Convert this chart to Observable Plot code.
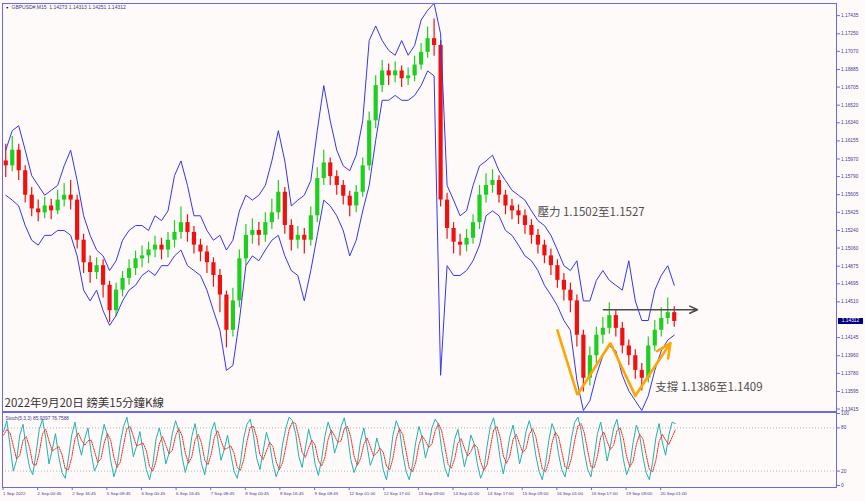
<!DOCTYPE html>
<html><head><meta charset="utf-8">
<script src="https://cdn.jsdelivr.net/npm/d3@7"></script>
<script src="https://cdn.jsdelivr.net/npm/@observablehq/plot@0.6"></script>
<style>
html,body{margin:0;padding:0;background:#fffafa;}
#wrap{position:relative;width:865px;height:501px;overflow:hidden;background:#fffafa;font-family:"Liberation Sans",Arial,sans-serif;}
#wrap svg{position:absolute;left:0;overflow:visible;}
#last{position:absolute;left:838px;width:25px;height:6px;background:#000080;color:#fff;font:4.8px "Liberation Sans";line-height:6px;text-align:center;}
</style></head><body>
<div id="wrap"></div>
<script>
// ---- data (GBPUSD M15, 1–20 Sep 2022; 3-hour groups of 12 bars) ----
const openP = [1.1595,1.1590,1.1606,1.1585,1.1560,1.1546,1.1542,1.1549,1.1544,1.1555,
1.1560,1.1555,1.1514,1.1491,1.1481,1.1488,1.1468,1.1442,1.1463,1.1475,
1.1485,1.1495,1.1498,1.1504,1.1509,1.1504,1.1514,1.1522,1.1532,1.1522,
1.1509,1.1502,1.1491,1.1478,1.1458,1.1422,1.1452,1.1495,1.1519,1.1524,
1.1519,1.1532,1.1542,1.1563,1.1529,1.1514,1.1519,1.1514,1.1539,1.1577,
1.1593,1.1579,1.1570,1.1559,1.1549,1.1563,1.1590,1.1636,1.1672,1.1687,
1.1682,1.1687,1.1679,1.1682,1.1693,1.1706,1.1720,1.1713,1.1555,1.1526,
1.1512,1.1509,1.1516,1.1532,1.1560,1.1570,1.1575,1.1560,1.1549,1.1544,
1.1539,1.1529,1.1519,1.1509,1.1498,1.1488,1.1473,1.1463,1.1452,1.1417,
1.1373,1.1396,1.1417,1.1424,1.1437,1.1424,1.1406,1.1396,1.1381,1.1373,
1.1406,1.1422,1.1434,1.1440];
const highP = [1.1612,1.1620,1.1612,1.1590,1.1568,1.1555,1.1558,1.1556,1.1565,1.1572,
1.1575,1.1560,1.1520,1.1498,1.1496,1.1494,1.1472,1.1470,1.1482,1.1494,
1.1503,1.1508,1.1512,1.1518,1.1516,1.1522,1.1534,1.1548,1.1540,1.1528,
1.1515,1.1508,1.1496,1.1484,1.1462,1.1465,1.1504,1.1530,1.1536,1.1532,
1.1542,1.1556,1.1575,1.1568,1.1535,1.1528,1.1526,1.1548,1.1588,1.1606,
1.1598,1.1585,1.1575,1.1564,1.1570,1.1598,1.1645,1.1682,1.1698,1.1694,
1.1696,1.1692,1.1690,1.1702,1.1715,1.1732,1.1740,1.1718,1.1562,1.1532,
1.1520,1.1525,1.1540,1.1570,1.1582,1.1586,1.1580,1.1565,1.1556,1.1550,
1.1545,1.1535,1.1525,1.1514,1.1505,1.1494,1.1480,1.1470,1.1458,1.1422,
1.1405,1.1425,1.1435,1.1450,1.1442,1.1430,1.1412,1.1402,1.1388,1.1415,
1.1432,1.1445,1.1455,1.1446];
const lowP = [1.1578,1.1584,1.1575,1.1552,1.1538,1.1533,1.1536,1.1535,1.1540,1.1548,
1.1545,1.1505,1.1480,1.1470,1.1474,1.1455,1.1430,1.1436,1.1456,1.1468,
1.1478,1.1486,1.1490,1.1496,1.1494,1.1496,1.1506,1.1515,1.1512,1.1500,
1.1492,1.1480,1.1466,1.1440,1.1404,1.1415,1.1445,1.1488,1.1510,1.1508,
1.1512,1.1525,1.1535,1.1520,1.1503,1.1505,1.1500,1.1508,1.1532,1.1570,
1.1570,1.1560,1.1550,1.1538,1.1542,1.1558,1.1585,1.1628,1.1665,1.1672,
1.1675,1.1670,1.1672,1.1676,1.1688,1.1700,1.1702,1.1548,1.1515,1.1500,
1.1498,1.1502,1.1510,1.1525,1.1552,1.1562,1.1552,1.1540,1.1535,1.1530,
1.1520,1.1510,1.1500,1.1490,1.1478,1.1465,1.1452,1.1440,1.1405,1.1359,
1.1365,1.1388,1.1408,1.1418,1.1415,1.1398,1.1386,1.1372,1.1360,1.1368,
1.1400,1.1415,1.1428,1.1425];
const closeP = [1.1590,1.1606,1.1585,1.1560,1.1546,1.1542,1.1549,1.1544,1.1555,1.1560,
1.1555,1.1514,1.1491,1.1481,1.1488,1.1468,1.1442,1.1463,1.1475,1.1485,
1.1495,1.1498,1.1504,1.1509,1.1504,1.1514,1.1522,1.1532,1.1522,1.1509,
1.1502,1.1491,1.1478,1.1458,1.1422,1.1452,1.1495,1.1519,1.1524,1.1519,
1.1532,1.1542,1.1563,1.1529,1.1514,1.1519,1.1514,1.1539,1.1577,1.1593,
1.1579,1.1570,1.1559,1.1549,1.1563,1.1590,1.1636,1.1672,1.1687,1.1682,
1.1687,1.1679,1.1682,1.1693,1.1706,1.1720,1.1713,1.1555,1.1526,1.1512,
1.1509,1.1516,1.1532,1.1560,1.1570,1.1575,1.1560,1.1549,1.1544,1.1539,
1.1529,1.1519,1.1509,1.1498,1.1488,1.1473,1.1463,1.1452,1.1417,1.1373,
1.1396,1.1417,1.1424,1.1437,1.1424,1.1406,1.1396,1.1381,1.1373,1.1406,
1.1422,1.1434,1.1440,1.1431];
const upperBand = [1.1606,1.1626,1.1631,1.1606,1.1580,1.1570,1.1560,1.1565,1.1570,1.1590,
1.1606,1.1575,1.1539,1.1519,1.1504,1.1498,1.1483,1.1493,1.1514,1.1524,
1.1529,1.1529,1.1524,1.1539,1.1534,1.1544,1.1580,1.1595,1.1570,1.1539,
1.1539,1.1524,1.1514,1.1519,1.1504,1.1514,1.1544,1.1560,1.1555,1.1560,
1.1570,1.1595,1.1626,1.1595,1.1549,1.1555,1.1560,1.1575,1.1626,1.1672,
1.1636,1.1606,1.1590,1.1585,1.1601,1.1636,1.1718,1.1733,1.1718,1.1708,
1.1703,1.1718,1.1703,1.1713,1.1739,1.1749,1.1756,1.1725,1.1570,1.1555,
1.1539,1.1544,1.1570,1.1590,1.1595,1.1601,1.1585,1.1575,1.1565,1.1560,
1.1555,1.1544,1.1534,1.1529,1.1519,1.1504,1.1488,1.1483,1.1493,1.1452,
1.1452,1.1473,1.1483,1.1473,1.1468,1.1463,1.1493,1.1452,1.1432,1.1432,
1.1463,1.1478,1.1488,1.1468];
const lowerBand = [1.1560,1.1555,1.1549,1.1529,1.1514,1.1509,1.1519,1.1519,1.1524,1.1524,
1.1519,1.1498,1.1463,1.1452,1.1463,1.1442,1.1427,1.1437,1.1452,1.1463,
1.1468,1.1478,1.1483,1.1478,1.1488,1.1488,1.1498,1.1504,1.1488,1.1483,
1.1478,1.1463,1.1442,1.1422,1.1381,1.1386,1.1432,1.1488,1.1498,1.1493,
1.1504,1.1514,1.1519,1.1498,1.1483,1.1478,1.1452,1.1483,1.1519,1.1555,
1.1549,1.1539,1.1524,1.1498,1.1514,1.1544,1.1570,1.1616,1.1657,1.1657,
1.1662,1.1657,1.1657,1.1662,1.1672,1.1687,1.1682,1.1376,1.1488,1.1478,
1.1478,1.1483,1.1493,1.1509,1.1539,1.1544,1.1539,1.1524,1.1519,1.1509,
1.1498,1.1493,1.1483,1.1468,1.1458,1.1447,1.1432,1.1422,1.1371,1.1340,
1.1350,1.1376,1.1396,1.1406,1.1401,1.1376,1.1360,1.1350,1.1340,1.1355,
1.1381,1.1401,1.1412,1.1417];
// Stochastic (5,3,3), one value per 6 bars
const stochK = [75,90,55,20,35,70,85,50,25,15,45,78,92,65,30,50,72,40,18,10,38,70,88,60,42,65,80,45,20,30,
62,85,70,35,12,28,60,82,95,70,40,55,75,48,22,8,30,65,80,58,30,45,72,90,76,40,18,35,68,86,
60,30,15,42,75,88,64,35,50,70,44,20,10,32,66,85,92,70,38,22,48,74,58,30,12,25,58,80,95,90,
72,40,25,52,78,60,30,14,36,68,88,74,45,60,82,94,70,36,18,30,62,80,55,28,40,66,50,22,8,35,
70,90,78,45,20,8,28,60,82,66,38,55,80,92,85,50,24,12,36,64,78,52,26,44,70,58,30,10,22,55,
82,94,70,38,16,40,68,84,60,30,48,75,90,72,42,20,8,30,62,86,74,44,22,12,35,66,88,95,76,45,
22,12,40,72,88,62,34,55,80,92,68,36,15,28,60,84,70,40,18,8,32,66,86,60,42,70,88,86];
const stochD = [70,78,73,55,37,42,63,68,53,30,28,46,72,78,62,48,51,54,43,23,22,39,65,73,63,56,62,63,48,32,
37,59,72,63,39,25,33,57,79,82,68,55,57,59,48,26,20,34,58,68,56,44,49,69,79,69,45,31,40,63,
71,59,35,29,44,68,76,62,50,52,55,45,25,21,36,61,81,82,67,43,36,48,60,54,33,22,32,54,78,88,
86,67,46,39,52,63,56,35,27,39,64,77,69,60,62,79,82,67,41,28,37,57,66,54,41,45,52,46,27,22,
38,65,79,71,48,24,19,32,57,69,62,53,58,76,86,76,53,29,24,37,59,65,52,41,47,57,53,33,21,29,
53,77,82,67,41,31,41,64,71,58,46,51,71,79,68,45,23,19,33,59,74,68,47,26,23,38,63,83,86,72,
48,26,25,41,67,74,61,50,56,76,80,65,40,26,34,57,71,65,43,22,19,35,61,71,63,57,67,77];
// axis ticks
const priceTicks = [1.17435,1.17250,1.17070,1.16885,1.16705,1.16520,1.16340,1.16155,1.15970,1.15790,1.15605,1.15425,1.15240,1.15060,1.14875,1.14695,1.14510,1.14145,1.13960,1.13780,1.13595,1.13415];
const stochTicks = [0,20,80,100];
const timeTickBars = [0,64,128,192,256,320,384,448,512,576,640,704,768,832,896,960,1024,1088,1152,1216];
const timeLabels = ["1 Sep 2022","2 Sep 00:45","2 Sep 16:45","5 Sep 08:45","6 Sep 00:45","6 Sep 16:45","7 Sep 08:45","8 Sep 00:45","8 Sep 16:45","9 Sep 08:45","12 Sep 01:00","12 Sep 17:00","13 Sep 09:00","14 Sep 01:00","14 Sep 17:00","15 Sep 09:00","16 Sep 01:00","16 Sep 17:00","19 Sep 09:00","20 Sep 01:00"];
const lastPrice = 1.14312;
const headerText = "GBPUSD#,M15  1.14273 1.14313 1.14251 1.14312";
const stochText = "Stoch(5,3,3) 85.9397 76.7588";
const titleText = "2022年9月20日 鎊美15分鐘K線";
// annotations (bar index, price)
const supportBars = [1026,1063,1124,1170,1235];
const supportPrices = [1.1422,1.1356,1.1409,1.1355,1.1409];
const resistLine = {bar1:1111, bar2:1285, price:1.1443};
const notes = [
  {bar:989, price:1.1543, label:"壓力 1.1502至1.1527"},
  {bar:1207, price:1.1364, label:"支撐 1.1386至1.1409"}
];

// ---- build ----
const BLUE = "#3535f0", AXIS = "#6a6ae6", LBL = "#3c3c8c";
const GREEN = "#1fcf1f", RED = "#f01010";
const X_DOMAIN = [0, 1542];
const candles = closeP.map((c, i) => ({bar: i*12+6, o: openP[i], h: highP[i], l: lowP[i], c, col: c >= openP[i] ? GREEN : RED}));
const bands = upperBand.map((u, i) => ({bar: i*12+6, u, lo: lowerBand[i]}));
const stoch = stochK.map((k, i) => ({bar: i*6+2, k, d: stochD[i]}));
const support = supportBars.map((b, i) => ({bar: b, price: supportPrices[i]}));
const n = support.length;

const main = Plot.plot({
  width: 865, height: 412, marginLeft: 2, marginRight: 29, marginTop: 3, marginBottom: 1,
  style: {background: "transparent", fontFamily: "Liberation Sans"},
  x: {domain: X_DOMAIN, axis: null},
  y: {domain: [1.13390, 1.17559], axis: null},
  color: {type: "identity"},
  marks: [
    Plot.ruleX(candles, {x: "bar", y1: "l", y2: "h", stroke: "col", strokeWidth: 1.2}),
    Plot.ruleX(candles, {x: "bar", y1: "o", y2: "c", stroke: "col", strokeWidth: 4.2}),
    Plot.line(bands, {x: "bar", y: "u", stroke: BLUE, strokeWidth: 1}),
    Plot.line(bands, {x: "bar", y: "lo", stroke: BLUE, strokeWidth: 1}),
    Plot.line(support.slice(0, n-1), {x: "bar", y: "price", stroke: "#ffa500", strokeWidth: 2.6, strokeLinejoin: "miter"}),
    Plot.arrow([{x1: support[n-2].bar, y1: support[n-2].price, x2: support[n-1].bar, y2: support[n-1].price}],
      {x1: "x1", y1: "y1", x2: "x2", y2: "y2", stroke: "#ffa500", strokeWidth: 2.6, headLength: 9, headAngle: 50}),
    Plot.arrow([resistLine], {x1: "bar1", x2: "bar2", y1: "price", y2: "price", stroke: "#4a4a4a", strokeWidth: 1.6, headLength: 8, headAngle: 50}),
    Plot.text(notes, {x: "bar", y: "price", text: "label", textAnchor: "start", fontSize: 11.5, fontFamily: "Noto Sans CJK TC", fill: "#4d4d4d"}),
    Plot.text([titleText], {frameAnchor: "bottom-left", dx: 2, dy: -8.5, lineAnchor: "middle", fontSize: 11.5, fontFamily: "Noto Sans CJK TC", fill: "#333"}),
    Plot.text([headerText], {frameAnchor: "top-left", dx: 9, dy: 2, lineAnchor: "top", fontSize: 5, fill: LBL}),
    Plot.text(["▼"], {frameAnchor: "top-left", dx: 3, dy: 2.5, lineAnchor: "top", fontSize: 3.5, fill: "#000080"}),
    Plot.frame({stroke: AXIS}),
    Plot.axisY(priceTicks, {anchor: "right", label: null, tickSize: 3, tickPadding: 1.5, tickFormat: d => d.toFixed(5), fontSize: 4.8, fill: LBL, stroke: AXIS})
  ]
});

const sub = Plot.plot({
  width: 865, height: 90, marginLeft: 2, marginRight: 29, marginTop: 1, marginBottom: 14,
  style: {background: "transparent", fontFamily: "Liberation Sans"},
  x: {domain: X_DOMAIN, axis: null},
  y: {domain: [-2.8, 101.4], axis: null},
  marks: [
    Plot.ruleY([20, 80], {stroke: "#b5b5b5", strokeDasharray: "1,2"}),
    Plot.line(stoch, {x: "bar", y: "k", stroke: "#20b2aa", strokeWidth: 1}),
    Plot.line(stoch, {x: "bar", y: "d", stroke: "#ff2020", strokeWidth: 1, strokeDasharray: "1.2,1.2"}),
    Plot.text([stochText], {frameAnchor: "top-left", dx: 3, dy: 4, lineAnchor: "top", fontSize: 4.8, fill: LBL}),
    Plot.frame({stroke: AXIS}),
    Plot.axisY(stochTicks, {anchor: "right", label: null, tickSize: 3, tickPadding: 1.5, fontSize: 4.8, fill: LBL, stroke: AXIS}),
    Plot.axisX(timeTickBars, {anchor: "bottom", label: null, tickSize: 3, tickPadding: 1.5, tickFormat: (d, i) => timeLabels[i], textAnchor: "start", dx: 0.5, fontSize: 4.4, fill: LBL, stroke: AXIS})
  ]
});

const wrap = document.getElementById("wrap");
main.style.top = "0px";
sub.style.top = "411px";
wrap.appendChild(main);
wrap.appendChild(sub);
const last = document.createElement("div");
last.id = "last";
last.textContent = lastPrice.toFixed(5);
last.style.top = (main.scale("y").apply(lastPrice) - 3) + "px";
wrap.appendChild(last);
</script>
</body></html>
